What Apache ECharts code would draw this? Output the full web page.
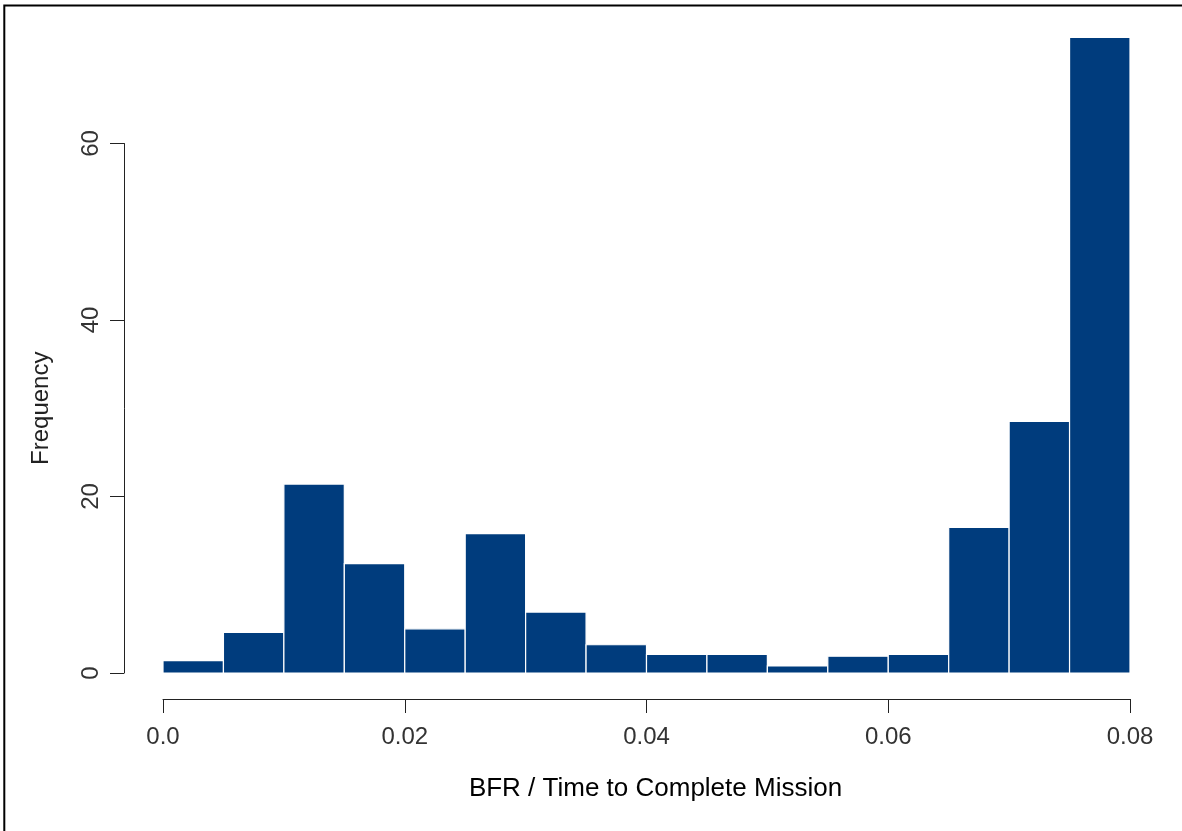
<!DOCTYPE html>
<html>
<head>
<meta charset="utf-8">
<script src="https://cdn.jsdelivr.net/npm/echarts@6/dist/echarts.min.js"></script>
<style>
  html, body { margin: 0; padding: 0; background: #fff; }
  #chart { width: 1182px; height: 831px; }
</style>
</head>
<body>
<div id="chart"></div>
<script>
// histogram bins (edges) and frequencies
const binEdges = [0, 0.005, 0.01, 0.015, 0.02, 0.025, 0.03, 0.035, 0.04,
                  0.045, 0.05, 0.055, 0.06, 0.065, 0.07, 0.075, 0.08];
const counts = [1.4, 4.6, 21.4, 12.4, 5.0, 15.8, 6.9, 3.2, 2.1, 2.1, 0.8, 1.9, 2.1, 16.5, 28.5, 72.0];
const xTickLabels = ['0.0', '0.02', '0.04', '0.06', '0.08'];
const yTickLabels = ['0', '20', '40', '60'];

const barData = counts.map((c, i) => [binEdges[i], binEdges[i + 1], c]);

const FONT = '"Liberation Sans", Arial, sans-serif';

const chart = echarts.init(document.getElementById('chart'));

chart.setOption({
  animation: false,
  backgroundColor: '#fff',
  graphic: [{
    type: 'rect',
    shape: { x: 4.3, y: 5.5, width: 1300, height: 1000 },
    style: { fill: 'none', stroke: '#000', lineWidth: 2 },
    silent: true
  }],
  grid: [
    // bars
    { left: 163, right: 52, top: 11, bottom: 158 },
    // y axis drawn only over 0..60, as R does
    { left: 124, right: 52, top: 143.5, bottom: 158 }
  ],
  xAxis: [{
    gridIndex: 0,
    type: 'value',
    min: 0,
    max: 0.08,
    interval: 0.02,
    offset: 26,
    axisLine: { show: true, onZero: false, lineStyle: { color: '#222', width: 1 } },
    axisTick: { show: true, length: 14, lineStyle: { color: '#222', width: 1 } },
    axisLabel: {
      margin: 26,
      fontFamily: FONT,
      fontSize: 24,
      color: '#333',
      formatter: (v, i) => xTickLabels[i]
    },
    splitLine: { show: false },
    name: 'BFR / Time to Complete Mission',
    nameLocation: 'middle',
    nameGap: 77,
    nameTextStyle: { fontFamily: FONT, fontSize: 26, color: '#000', padding: [0, 0, 0, 18] }
  }, {
    gridIndex: 1,
    type: 'value',
    min: 0,
    max: 1,
    show: false
  }],
  yAxis: [{
    gridIndex: 0,
    type: 'value',
    min: 0,
    max: 75,
    show: false
  }, {
    gridIndex: 1,
    type: 'value',
    min: 0,
    max: 60,
    interval: 20,
    axisLine: { show: true, lineStyle: { color: '#222', width: 1 } },
    axisTick: { show: true, length: 14, lineStyle: { color: '#222', width: 1 } },
    axisLabel: {
      rotate: 90,
      margin: 21,
      fontFamily: FONT,
      fontSize: 24,
      color: '#333',
      formatter: (v, i) => yTickLabels[i]
    },
    splitLine: { show: false },
    name: 'Frequency',
    nameLocation: 'middle',
    nameGap: 71,
    nameTextStyle: { fontFamily: FONT, fontSize: 24, color: '#222' }
  }],
  series: [{
    type: 'custom',
    xAxisIndex: 0,
    yAxisIndex: 0,
    data: barData,
    renderItem: function (params, api) {
      const p0 = api.coord([api.value(0), api.value(2)]);
      const p1 = api.coord([api.value(1), 0]);
      return {
        type: 'rect',
        shape: { x: p0[0], y: p0[1], width: p1[0] - p0[0], height: p1[1] - p0[1] },
        style: { fill: '#003c7d', stroke: '#ffffff', lineWidth: 1.2 }
      };
    }
  }]
});
</script>
</body>
</html>
